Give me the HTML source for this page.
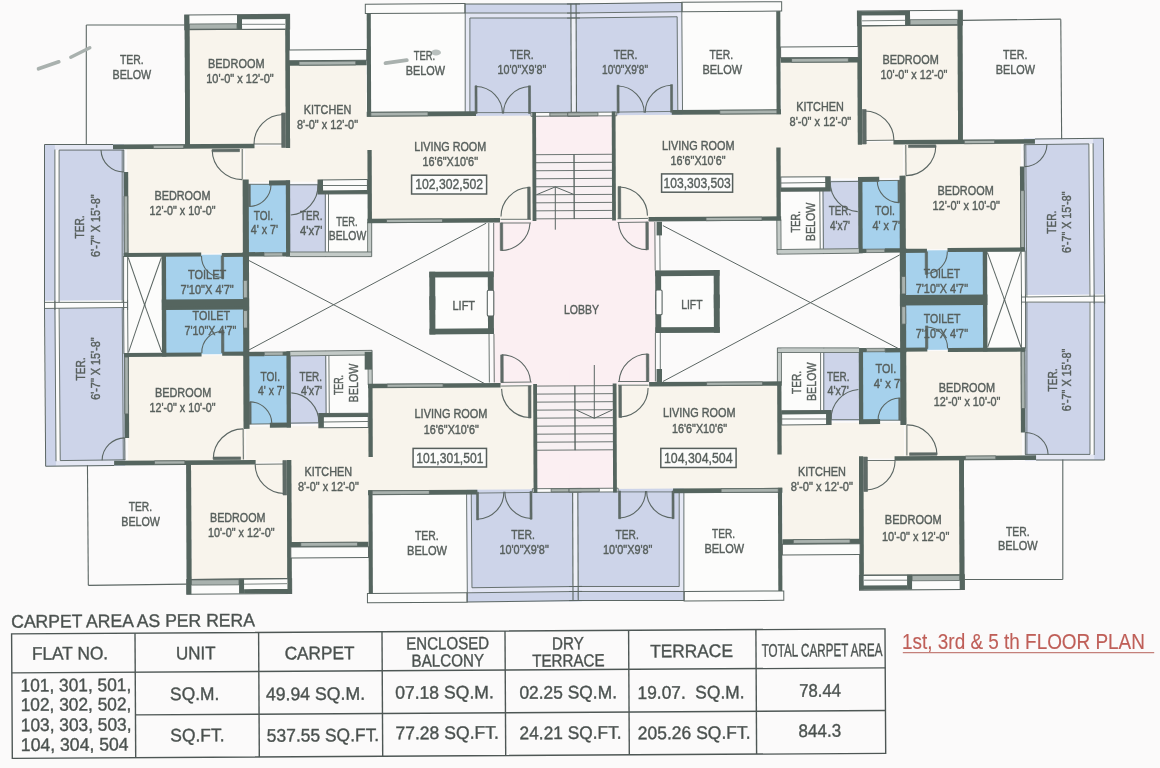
<!DOCTYPE html>
<html><head><meta charset="utf-8"><style>
html,body{margin:0;padding:0;background:#fbfafa;}
svg{display:block;font-family:"Liberation Sans",sans-serif;will-change:transform;}
text{stroke:#575f5c;stroke-width:0.42px;}
</style></head><body>
<svg width="1160" height="768" viewBox="0 0 1160 768">
<defs><filter id="blur1" x="-20%" y="-50%" width="140%" height="200%"><feGaussianBlur stdDeviation="0.6"/></filter></defs>
<rect width="1160" height="768" fill="#fbfafa"/>
<g transform="matrix(1,-0.006,0.0036,1,574.55,302.25)">
<g id="qf">
<rect x="-529.47" y="-160.93" width="79.5" height="165.5" fill="#cdd4e9"/>
<rect x="-519.09" y="-155.86" width="4.2" height="160.5" fill="#fcfcfb"/>
<rect x="-519.07" y="-160.36" width="69.1" height="5" fill="#e4e7f3"/>
<rect x="-530.04" y="-2.83" width="83.1" height="7.4" fill="#fcfcfb"/>
<rect x="-384.16" y="-275.05" width="96.4" height="115.5" fill="#f8f4ec"/>
<rect x="-328.98" y="-158.22" width="126" height="36" fill="#f8f4ec"/>
<rect x="-284.69" y="-239.96" width="82" height="84" fill="#f8f4ec"/>
<rect x="-204.87" y="-188.48" width="164" height="106" fill="#f8f4ec"/>
<rect x="-446.99" y="-156.93" width="117" height="106" fill="#f8f4ec"/>
<rect x="-327.12" y="-119.91" width="41" height="71.2" fill="#a6d1ec"/>
<rect x="-286.12" y="-119.97" width="38" height="71.5" fill="#cdd4e9"/>
<rect x="-248.15" y="-111.74" width="42" height="61" fill="#fcfcfb"/>
<rect x="-410.37" y="-49.71" width="81" height="55" fill="#a6d1ec"/>
<rect x="-450.77" y="-49.95" width="38.4" height="55" fill="#fcfcfb"/>
<rect x="-207.47" y="-299.29" width="100" height="111.8" fill="#fcfcfb"/>
<rect x="-108.47" y="-299" width="115" height="112.1" fill="#cdd4e9"/>
<rect x="-107.51" y="-289.9" width="114" height="5" fill="#e2e5f3"/>
<rect x="-108.21" y="-289.9" width="4.6" height="100" fill="#e6e9f5"/>
<rect x="-2.6" y="-284.3" width="5.2" height="97.8" fill="#eef0f7"/>
<rect x="-40.87" y="-189.5" width="47" height="109" fill="#fbeff2"/>
<rect x="-81.26" y="-81.74" width="87" height="89" fill="#fbeff2"/>
<rect x="-38.02" y="-147.88" width="44" height="64.2" fill="#f8f1f3"/>
<rect x="-144.43" y="-32.12" width="62" height="39" fill="#fcfcfb"/>
</g>
<use href="#qf" transform="scale(-1,1)"/>
<use href="#qf" transform="scale(1,-1)"/>
<use href="#qf" transform="scale(-1,-1)"/>
<g id="ql">
<line x1="-529.47" y1="-160.93" x2="-530.07" y2="4.57" stroke="#5b6663" stroke-width="1.0"/>
<line x1="-529.47" y1="-160.93" x2="-460.97" y2="-160.52" stroke="#5b6663" stroke-width="1.0"/>
<line x1="-519.09" y1="-155.86" x2="-519.67" y2="4.63" stroke="#5b6663" stroke-width="0.9"/>
<line x1="-514.89" y1="-155.24" x2="-515.44" y2="-2.94" stroke="#5b6663" stroke-width="0.9"/>
<line x1="-514.89" y1="-155.24" x2="-449.99" y2="-154.85" stroke="#5b6663" stroke-width="0.9"/>
<line x1="-451.79" y1="-154.96" x2="-452.34" y2="-2.56" stroke="#5b6663" stroke-width="0.8"/>
<line x1="-530.04" y1="-3.03" x2="-446.94" y2="-2.53" stroke="#5b6663" stroke-width="0.9"/>
<line x1="-450.77" y1="-48.95" x2="-450.97" y2="5.04" stroke="#5b6663" stroke-width="0.9"/>
<line x1="-446.77" y1="-48.93" x2="-446.97" y2="5.07" stroke="#5b6663" stroke-width="0.9"/>
<line x1="-487.24" y1="-280.17" x2="-487.67" y2="-160.18" stroke="#5b6663" stroke-width="1.1"/>
<line x1="-487.24" y1="-280.17" x2="-388.54" y2="-279.58" stroke="#5b6663" stroke-width="1.1"/>
<rect x="-388.81" y="-289.58" width="4.7" height="133" fill="#55655f"/>
<rect x="-288.11" y="-288.98" width="4.2" height="133" fill="#55655f"/>
<rect x="-388.81" y="-289.58" width="104.9" height="14.7" fill="#fcfcfb" stroke="#5b6663" stroke-width="1.0"/>
<rect x="-384.14" y="-280.55" width="47.6" height="5.2" fill="#a9b2ae" stroke="#5b6663" stroke-width="0.8"/>
<rect x="-336.51" y="-289.27" width="5" height="14.7" fill="#55655f"/>
<rect x="-331.51" y="-289.24" width="47.6" height="4.3" fill="#55655f"/>
<line x1="-331.54" y1="-279.94" x2="-288.54" y2="-279.68" stroke="#5b6663" stroke-width="0.8"/>
<line x1="-384.16" y1="-275.05" x2="-288.56" y2="-274.48" stroke="#5b6663" stroke-width="1.0"/>
<rect x="-388.81" y="-289.58" width="4.7" height="133" fill="#55655f"/>
<rect x="-288.11" y="-288.98" width="4.2" height="133" fill="#55655f"/>
<rect x="-460.97" y="-160.42" width="141.5" height="4.6" fill="#55655f"/>
<rect x="-420.68" y="-159.47" width="30.4" height="3.3" fill="#a9b2ae" stroke="#5b6663" stroke-width="0.8"/>
<rect x="-292.26" y="-191" width="3.8" height="34.5" fill="#5f6b67" stroke="#5b6663" stroke-width="0.6"/>
<line x1="-319.97" y1="-160.17" x2="-290.97" y2="-160" stroke="#5b6663" stroke-width="0.9"/>
<path d="M-319.97 -160.17A29.5 29.5 0 0 1 -290.87 -189.5" fill="none" stroke="#5b6663" stroke-width="1.1"/>
<line x1="-450.19" y1="-154.95" x2="-450.27" y2="-132.95" stroke="#5b6663" stroke-width="1.0"/>
<rect x="-450.47" y="-132.95" width="4.6" height="85" fill="#55655f"/>
<rect x="-450.06" y="-108.95" width="3.6" height="56.9" fill="#a9b2ae" stroke="#5b6663" stroke-width="0.8"/>
<path d="M-472.99 -155.09A22.8 22.8 0 0 0 -450.27 -132.95" fill="none" stroke="#5b6663" stroke-width="1.1"/>
<rect x="-361.79" y="-155.22" width="27.3" height="2.6" fill="#5f6b67" stroke="#5b6663" stroke-width="0.6"/>
<line x1="-331.79" y1="-155.24" x2="-331.9" y2="-124.64" stroke="#5b6663" stroke-width="1.0"/>
<path d="M-361.79 -154.42A30 30 0 0 0 -331.9 -124.64" fill="none" stroke="#5b6663" stroke-width="1.1"/>
<rect x="-331.5" y="-124.64" width="6.1" height="130.4" fill="#55655f"/>
<rect x="-450.76" y="-52.05" width="77.6" height="4.1" fill="#55655f"/>
<rect x="-352.56" y="-51.47" width="26.2" height="4.1" fill="#55655f"/>
<rect x="-353.18" y="-48.37" width="2.4" height="22.6" fill="#5f6b67" stroke="#5b6663" stroke-width="0.6"/>
<path d="M-372.88 -48.49A21 21 0 0 0 -352.05 -26.86" fill="none" stroke="#5b6663" stroke-width="1.1"/>
<rect x="-412.76" y="-51.73" width="4.4" height="57" fill="#55655f"/>
<rect x="-412.54" y="-2.13" width="86" height="7.4" fill="#55655f"/>
<rect x="-331.16" y="-23.84" width="4" height="17.5" fill="#a9b2ae" stroke="#5b6663" stroke-width="0.8"/>
<line x1="-446.18" y1="-47.43" x2="-429.55" y2="1.17" stroke="#5b6663" stroke-width="1.0"/>
<line x1="-412.98" y1="-47.23" x2="-430.35" y2="1.17" stroke="#5b6663" stroke-width="1.0"/>
<line x1="-326.12" y1="-119.91" x2="-304.12" y2="-119.77" stroke="#5b6663" stroke-width="0.9"/>
<rect x="-305.11" y="-123.58" width="21" height="5" fill="#55655f"/>
<rect x="-288.31" y="-123.48" width="4.3" height="76.1" fill="#55655f"/>
<rect x="-325.82" y="-119.7" width="2" height="22" fill="#5f6b67" stroke="#5b6663" stroke-width="0.6"/>
<path d="M-324.7 -97.7A22 22 0 0 0 -303.12 -119.57" fill="none" stroke="#5b6663" stroke-width="1.1"/>
<rect x="-331.86" y="-52.04" width="21.5" height="4.4" fill="#55655f"/>
<rect x="-310.37" y="-51.31" width="18.7" height="3.4" fill="#a9b2ae" stroke="#5b6663" stroke-width="0.8"/>
<rect x="-291.66" y="-51.8" width="7.4" height="4.4" fill="#55655f"/>
<line x1="-284.12" y1="-119.15" x2="-256.12" y2="-118.99" stroke="#5b6663" stroke-width="0.9"/>
<path d="M-283.53 -88.95A29.5 29.5 0 0 0 -256.12 -118.99" fill="none" stroke="#5b6663" stroke-width="1.1"/>
<rect x="-256.1" y="-123.89" width="49.4" height="14.2" fill="#fcfcfb" stroke="#5b6663" stroke-width="1.0"/>
<line x1="-252.12" y1="-118.26" x2="-206.73" y2="-117.99" stroke="#5b6663" stroke-width="0.9"/>
<rect x="-256.14" y="-113.39" width="49.4" height="3.7" fill="#55655f"/>
<rect x="-256.1" y="-123.89" width="5" height="14.2" fill="#55655f"/>
<line x1="-248.85" y1="-109.74" x2="-249.08" y2="-47.14" stroke="#5b6663" stroke-width="0.9"/>
<line x1="-245.65" y1="-109.72" x2="-245.86" y2="-51.73" stroke="#5b6663" stroke-width="0.9"/>
<rect x="-284.36" y="-51.96" width="81.7" height="4.6" fill="#c3cac7"/>
<rect x="-206.66" y="-81.49" width="4.1" height="34.6" fill="#c3cac7"/>
<line x1="-284.36" y1="-51.96" x2="-202.66" y2="-51.47" stroke="#5b6663" stroke-width="0.8"/>
<line x1="-284.38" y1="-47.36" x2="-202.68" y2="-46.87" stroke="#5b6663" stroke-width="0.9"/>
<line x1="-206.66" y1="-81.49" x2="-206.76" y2="-51.49" stroke="#5b6663" stroke-width="0.8"/>
<line x1="-202.56" y1="-81.47" x2="-202.68" y2="-46.87" stroke="#5b6663" stroke-width="0.9"/>
<rect x="-206.6" y="-153.49" width="4.3" height="72.6" fill="#55655f"/>
<rect x="-206.85" y="-84.69" width="132.6" height="4.4" fill="#55655f"/>
<rect x="-187.75" y="-83.98" width="56" height="3.2" fill="#a9b2ae" stroke="#5b6663" stroke-width="0.8"/>
<rect x="-208.17" y="-299.3" width="99.7" height="9.4" fill="#fcfcfb" stroke="#5b6663" stroke-width="1.0"/>
<rect x="-206.81" y="-289.89" width="4.1" height="103.1" fill="#55655f"/>
<rect x="-207.16" y="-191.69" width="109.3" height="4.9" fill="#55655f"/>
<rect x="-203.06" y="-191.07" width="57.2" height="3.7" fill="#a9b2ae" stroke="#5b6663" stroke-width="0.8"/>
<line x1="-108.31" y1="-289.3" x2="-108.66" y2="-190.9" stroke="#5b6663" stroke-width="0.9"/>
<rect x="-284.64" y="-253.96" width="77.7" height="10.8" fill="#fcfcfb" stroke="#5b6663" stroke-width="1.0"/>
<rect x="-284.67" y="-243.16" width="77.7" height="5" fill="#55655f"/>
<rect x="-274.68" y="-242.5" width="56.8" height="3.8" fill="#a9b2ae" stroke="#5b6663" stroke-width="0.8"/>
<line x1="-108.47" y1="-299" x2="6.52" y2="-298.31" stroke="#5b6663" stroke-width="1.0"/>
<line x1="-108.47" y1="-299" x2="-108.51" y2="-289.3" stroke="#5b6663" stroke-width="1.0"/>
<line x1="-108.51" y1="-289.9" x2="6.49" y2="-289.21" stroke="#5b6663" stroke-width="0.9"/>
<line x1="-103.62" y1="-284.87" x2="6.47" y2="-284.21" stroke="#5b6663" stroke-width="0.9"/>
<line x1="-103.62" y1="-284.87" x2="-103.96" y2="-190.87" stroke="#5b6663" stroke-width="0.9"/>
<line x1="-2.6" y1="-298.4" x2="-2.6" y2="-186.5" stroke="#5b6663" stroke-width="1.1"/>
<rect x="-98.77" y="-217.04" width="2" height="27.7" fill="#5f6b67" stroke="#5b6663" stroke-width="0.6"/>
<rect x="-45.27" y="-216.72" width="2" height="27.7" fill="#5f6b67" stroke="#5b6663" stroke-width="0.6"/>
<path d="M-97.77 -216.34A27 27 0 0 1 -71.37 -189.18" fill="none" stroke="#5b6663" stroke-width="1.1"/>
<path d="M-44.27 -216.02A27 27 0 0 0 -70.37 -189.17" fill="none" stroke="#5b6663" stroke-width="1.1"/>
<line x1="-97.87" y1="-190.24" x2="-43.87" y2="-189.91" stroke="#5b6663" stroke-width="0.8"/>
<rect x="-42.87" y="-189.91" width="49" height="3.7" fill="#fcfcfb" stroke="#5b6663" stroke-width="0.9"/>
<rect x="-24.07" y="-189.49" width="30.2" height="3.1" fill="#a9b2ae" stroke="#5b6663" stroke-width="0.8"/>
<rect x="-41.66" y="-190.5" width="3.8" height="109" fill="#55655f"/>
<rect x="-46.53" y="-115.53" width="2.6" height="32" fill="#5f6b67" stroke="#5b6663" stroke-width="0.6"/>
<path d="M-45.64 -115.02A29 29 0 0 0 -73.24 -86.19" fill="none" stroke="#5b6663" stroke-width="1.1"/>
<line x1="-73.75" y1="-83.39" x2="-43.25" y2="-83.21" stroke="#5b6663" stroke-width="0.9"/>
<line x1="-73.76" y1="-79.69" x2="-43.26" y2="-79.51" stroke="#5b6663" stroke-width="0.9"/>
<rect x="-74.06" y="-79.69" width="2.5" height="27.5" fill="#5f6b67" stroke="#5b6663" stroke-width="0.6"/>
<path d="M-72.86 -52.19A29 29 0 0 0 -44.26 -79.32" fill="none" stroke="#5b6663" stroke-width="1.1"/>
<line x1="-38.02" y1="-147.76" x2="0.3" y2="-147.76" stroke="#5b6663" stroke-width="0.9"/>
<line x1="-38.05" y1="-139.74" x2="0.3" y2="-139.74" stroke="#5b6663" stroke-width="0.9"/>
<line x1="-38.08" y1="-131.72" x2="0.3" y2="-131.72" stroke="#5b6663" stroke-width="0.9"/>
<line x1="-38.1" y1="-123.7" x2="0.3" y2="-123.7" stroke="#5b6663" stroke-width="0.9"/>
<line x1="-38.13" y1="-115.68" x2="0.3" y2="-115.68" stroke="#5b6663" stroke-width="0.9"/>
<line x1="-38.16" y1="-107.66" x2="0.3" y2="-107.66" stroke="#5b6663" stroke-width="0.9"/>
<line x1="-38.19" y1="-99.65" x2="0.3" y2="-99.65" stroke="#5b6663" stroke-width="0.9"/>
<line x1="-38.22" y1="-91.63" x2="0.3" y2="-91.63" stroke="#5b6663" stroke-width="0.9"/>
<line x1="-38.25" y1="-83.61" x2="0.3" y2="-83.61" stroke="#5b6663" stroke-width="0.9"/>
<line x1="0" y1="-147.7" x2="0" y2="-83.5" stroke="#5b6663" stroke-width="0.9"/>
<line x1="-85.46" y1="-79.76" x2="-85.64" y2="-31.26" stroke="#5b6663" stroke-width="0.9"/>
<line x1="-80.56" y1="-79.73" x2="-80.74" y2="-31.23" stroke="#5b6663" stroke-width="0.9"/>
<rect x="-145.14" y="-31.32" width="5.9" height="38.2" fill="#55655f"/>
<rect x="-145.14" y="-31.32" width="64.4" height="5.8" fill="#55655f"/>
<rect x="-86.64" y="-30.97" width="5.9" height="38.2" fill="#55655f"/>
</g>
<use href="#ql" transform="scale(-1,1)"/>
<use href="#ql" transform="scale(1,-1)"/>
<use href="#ql" transform="scale(-1,-1)"/>
</g>
<line x1="247" y1="259.5" x2="485" y2="383.8" stroke="#5b6663" stroke-width="1.0"/>
<line x1="486.2" y1="223.2" x2="247" y2="351" stroke="#5b6663" stroke-width="1.0"/>
<line x1="662.9" y1="225.6" x2="898.5" y2="348.6" stroke="#5b6663" stroke-width="1.0"/>
<line x1="899.7" y1="254.9" x2="662.9" y2="381.5" stroke="#5b6663" stroke-width="1.0"/>
<line x1="555.3" y1="186.9" x2="555.3" y2="229.7" stroke="#5b6663" stroke-width="1.0"/>
<polyline points="536.8,194.6 555.3,186.9 574.2,194.6" fill="none" stroke="#5b6663" stroke-width="1.0"/>
<line x1="594.3" y1="365" x2="594.3" y2="418.3" stroke="#5b6663" stroke-width="1.0"/>
<polyline points="576.5,410.1 594.3,418.3 612,410.1" fill="none" stroke="#5b6663" stroke-width="1.0"/>
<rect x="487.3" y="290.3" width="6.5" height="25.8" rx="1.3" fill="#fcfcfb" stroke="#5b6663" stroke-width="1.1"/>
<rect x="655.9" y="290" width="6.2" height="24.8" rx="1.3" fill="#fcfcfb" stroke="#5b6663" stroke-width="1.1"/>
<rect x="656.6" y="221.8" width="5.4" height="13.6" fill="#55655f"/>
<rect x="656.6" y="369" width="5.4" height="14.4" fill="#55655f"/>
<line x1="38.5" y1="68.8" x2="58.8" y2="61.8" stroke="#a9b1ae" stroke-width="3.6" stroke-linecap="round" filter="url(#blur1)"/>
<line x1="70.8" y1="57.3" x2="89.8" y2="47.8" stroke="#a9b1ae" stroke-width="3.4" stroke-linecap="round" filter="url(#blur1)"/>
<line x1="385.5" y1="63.2" x2="406.8" y2="60.2" stroke="#a9b1ae" stroke-width="3.8" stroke-linecap="round" filter="url(#blur1)"/>
<ellipse cx="436" cy="52.5" rx="5" ry="3" fill="#a9b2af" opacity="0.8" filter="url(#blur1)"/>
<rect x="364.7" y="351.9" width="7.3" height="17.7" fill="#55655f"/>
<text x="131.88" y="63.75" font-size="12.3" text-anchor="middle" fill="#575f5c" textLength="23.75" lengthAdjust="spacingAndGlyphs">TER.</text>
<text x="131.88" y="78.75" font-size="12.3" text-anchor="middle" fill="#575f5c" textLength="38.75" lengthAdjust="spacingAndGlyphs">BELOW</text>
<text x="236.25" y="67.5" font-size="12.3" text-anchor="middle" fill="#575f5c" textLength="56.5" lengthAdjust="spacingAndGlyphs">BEDROOM</text>
<text x="240" y="82.5" font-size="12.3" text-anchor="middle" fill="#575f5c" textLength="67.5" lengthAdjust="spacingAndGlyphs">10'-0" x 12'-0"</text>
<text x="327.5" y="113.6" font-size="12.3" text-anchor="middle" fill="#575f5c" textLength="47.5" lengthAdjust="spacingAndGlyphs">KITCHEN</text>
<text x="327.5" y="128.75" font-size="12.3" text-anchor="middle" fill="#575f5c" textLength="61" lengthAdjust="spacingAndGlyphs">8'-0" x 12'-0"</text>
<text x="424.38" y="60" font-size="12.3" text-anchor="middle" fill="#575f5c" textLength="21.25" lengthAdjust="spacingAndGlyphs">TER.</text>
<text x="425.38" y="75" font-size="12.3" text-anchor="middle" fill="#575f5c" textLength="39.25" lengthAdjust="spacingAndGlyphs">BELOW</text>
<text x="521.88" y="59.25" font-size="12.3" text-anchor="middle" fill="#575f5c" textLength="23.75" lengthAdjust="spacingAndGlyphs">TER.</text>
<text x="521.88" y="74.25" font-size="12.3" text-anchor="middle" fill="#575f5c" textLength="48.75" lengthAdjust="spacingAndGlyphs">10'0"X9'8"</text>
<text x="450.25" y="151.25" font-size="12.3" text-anchor="middle" fill="#575f5c" textLength="72" lengthAdjust="spacingAndGlyphs">LIVING ROOM</text>
<text x="450.25" y="166.25" font-size="12.3" text-anchor="middle" fill="#575f5c" textLength="55.5" lengthAdjust="spacingAndGlyphs">16'6"X10'6"</text>
<text x="182.5" y="199.5" font-size="12.3" text-anchor="middle" fill="#575f5c" textLength="56" lengthAdjust="spacingAndGlyphs">BEDROOM</text>
<text x="182.5" y="214.5" font-size="12.3" text-anchor="middle" fill="#575f5c" textLength="66" lengthAdjust="spacingAndGlyphs">12'-0" x 10'-0"</text>
<text x="263.38" y="219.5" font-size="12.3" text-anchor="middle" fill="#575f5c" textLength="19.25" lengthAdjust="spacingAndGlyphs">TOI.</text>
<text x="264.38" y="233.75" font-size="12.3" text-anchor="middle" fill="#575f5c" textLength="27.25" lengthAdjust="spacingAndGlyphs">4' x 7'</text>
<text x="311.25" y="219.5" font-size="12.3" text-anchor="middle" fill="#575f5c" textLength="22.5" lengthAdjust="spacingAndGlyphs">TER.</text>
<text x="311.25" y="234.5" font-size="12.3" text-anchor="middle" fill="#575f5c" textLength="22.5" lengthAdjust="spacingAndGlyphs">4'x7'</text>
<text x="346.88" y="226.25" font-size="12.3" text-anchor="middle" fill="#575f5c" textLength="21.25" lengthAdjust="spacingAndGlyphs">TER.</text>
<text x="347.5" y="240" font-size="12.3" text-anchor="middle" fill="#575f5c" textLength="37.5" lengthAdjust="spacingAndGlyphs">BELOW</text>
<text x="207.12" y="278.75" font-size="12.3" text-anchor="middle" fill="#575f5c" textLength="38.25" lengthAdjust="spacingAndGlyphs">TOILET</text>
<text x="207.12" y="293.75" font-size="12.3" text-anchor="middle" fill="#575f5c" textLength="53.25" lengthAdjust="spacingAndGlyphs">7'10"X 4'7"</text>
<text x="84.3" y="227" font-size="12.3" text-anchor="middle" fill="#575f5c" textLength="23" lengthAdjust="spacingAndGlyphs" transform="rotate(-90 84.3 227)">TER.</text>
<text x="100.2" y="225.7" font-size="12.3" text-anchor="middle" fill="#575f5c" textLength="62.5" lengthAdjust="spacingAndGlyphs" transform="rotate(-90 100.2 225.7)">6'-7" X 15'-8"</text>
<text x="625.62" y="59.25" font-size="12.3" text-anchor="middle" fill="#575f5c" textLength="23.75" lengthAdjust="spacingAndGlyphs">TER.</text>
<text x="625" y="73.75" font-size="12.3" text-anchor="middle" fill="#575f5c" textLength="46" lengthAdjust="spacingAndGlyphs">10'0"X9'8"</text>
<text x="721.25" y="59.25" font-size="12.3" text-anchor="middle" fill="#575f5c" textLength="23.5" lengthAdjust="spacingAndGlyphs">TER.</text>
<text x="722.25" y="74.25" font-size="12.3" text-anchor="middle" fill="#575f5c" textLength="39.5" lengthAdjust="spacingAndGlyphs">BELOW</text>
<text x="820" y="111.25" font-size="12.3" text-anchor="middle" fill="#575f5c" textLength="47.5" lengthAdjust="spacingAndGlyphs">KITCHEN</text>
<text x="820.38" y="126.25" font-size="12.3" text-anchor="middle" fill="#575f5c" textLength="61.75" lengthAdjust="spacingAndGlyphs">8'-0" x 12'-0"</text>
<text x="698.25" y="149.5" font-size="12.3" text-anchor="middle" fill="#575f5c" textLength="72.5" lengthAdjust="spacingAndGlyphs">LIVING ROOM</text>
<text x="698" y="165" font-size="12.3" text-anchor="middle" fill="#575f5c" textLength="55" lengthAdjust="spacingAndGlyphs">16'6"X10'6"</text>
<text x="910.62" y="63.75" font-size="12.3" text-anchor="middle" fill="#575f5c" textLength="56.25" lengthAdjust="spacingAndGlyphs">BEDROOM</text>
<text x="914" y="78.75" font-size="12.3" text-anchor="middle" fill="#575f5c" textLength="67" lengthAdjust="spacingAndGlyphs">10'-0" x 12'-0"</text>
<text x="1015.25" y="58.75" font-size="12.3" text-anchor="middle" fill="#575f5c" textLength="24.5" lengthAdjust="spacingAndGlyphs">TER.</text>
<text x="1015.38" y="73.75" font-size="12.3" text-anchor="middle" fill="#575f5c" textLength="39.25" lengthAdjust="spacingAndGlyphs">BELOW</text>
<text x="965.62" y="194.5" font-size="12.3" text-anchor="middle" fill="#575f5c" textLength="56.25" lengthAdjust="spacingAndGlyphs">BEDROOM</text>
<text x="966.25" y="210" font-size="12.3" text-anchor="middle" fill="#575f5c" textLength="67.5" lengthAdjust="spacingAndGlyphs">12'-0" x 10'-0"</text>
<text x="840" y="215" font-size="12.3" text-anchor="middle" fill="#575f5c" textLength="22.5" lengthAdjust="spacingAndGlyphs">TER.</text>
<text x="840" y="230" font-size="12.3" text-anchor="middle" fill="#575f5c" textLength="20" lengthAdjust="spacingAndGlyphs">4'x7'</text>
<text x="885" y="215" font-size="12.3" text-anchor="middle" fill="#575f5c" textLength="20" lengthAdjust="spacingAndGlyphs">TOI.</text>
<text x="886.25" y="230" font-size="12.3" text-anchor="middle" fill="#575f5c" textLength="27.5" lengthAdjust="spacingAndGlyphs">4' x 7'</text>
<text x="800" y="221.75" font-size="12.3" text-anchor="middle" fill="#575f5c" textLength="21.5" lengthAdjust="spacingAndGlyphs" transform="rotate(-90 800 221.75)">TER.</text>
<text x="815" y="221.9" font-size="12.3" text-anchor="middle" fill="#575f5c" textLength="38.75" lengthAdjust="spacingAndGlyphs" transform="rotate(-90 815 221.9)">BELOW</text>
<text x="941.88" y="278.25" font-size="12.3" text-anchor="middle" fill="#575f5c" textLength="36.25" lengthAdjust="spacingAndGlyphs">TOILET</text>
<text x="941.88" y="293" font-size="12.3" text-anchor="middle" fill="#575f5c" textLength="52.25" lengthAdjust="spacingAndGlyphs">7'10"X 4'7"</text>
<text x="1056" y="222.2" font-size="12.3" text-anchor="middle" fill="#575f5c" textLength="23" lengthAdjust="spacingAndGlyphs" transform="rotate(-90 1056 222.2)">TER.</text>
<text x="1070.6" y="222.2" font-size="12.3" text-anchor="middle" fill="#575f5c" textLength="61.5" lengthAdjust="spacingAndGlyphs" transform="rotate(-90 1070.6 222.2)">6'-7" X 15'-8"</text>
<text x="211.25" y="320" font-size="12.3" text-anchor="middle" fill="#575f5c" textLength="37.5" lengthAdjust="spacingAndGlyphs">TOILET</text>
<text x="210.38" y="335" font-size="12.3" text-anchor="middle" fill="#575f5c" textLength="51.75" lengthAdjust="spacingAndGlyphs">7'10"X 4'7"</text>
<text x="84.5" y="369" font-size="12.3" text-anchor="middle" fill="#575f5c" textLength="23" lengthAdjust="spacingAndGlyphs" transform="rotate(-90 84.5 369)">TER.</text>
<text x="100.3" y="368.6" font-size="12.3" text-anchor="middle" fill="#575f5c" textLength="62.5" lengthAdjust="spacingAndGlyphs" transform="rotate(-90 100.3 368.6)">6'-7" X 15'-8"</text>
<text x="183.12" y="397" font-size="12.3" text-anchor="middle" fill="#575f5c" textLength="56.25" lengthAdjust="spacingAndGlyphs">BEDROOM</text>
<text x="182.5" y="412" font-size="12.3" text-anchor="middle" fill="#575f5c" textLength="66" lengthAdjust="spacingAndGlyphs">12'-0" x 10'-0"</text>
<text x="270.25" y="381.25" font-size="12.3" text-anchor="middle" fill="#575f5c" textLength="19.5" lengthAdjust="spacingAndGlyphs">TOI.</text>
<text x="271.25" y="395" font-size="12.3" text-anchor="middle" fill="#575f5c" textLength="26.5" lengthAdjust="spacingAndGlyphs">4' x 7'</text>
<text x="310.75" y="381.25" font-size="12.3" text-anchor="middle" fill="#575f5c" textLength="22.5" lengthAdjust="spacingAndGlyphs">TER.</text>
<text x="311.5" y="395" font-size="12.3" text-anchor="middle" fill="#575f5c" textLength="21" lengthAdjust="spacingAndGlyphs">4'x7'</text>
<text x="342.5" y="385" font-size="12.3" text-anchor="middle" fill="#575f5c" textLength="20" lengthAdjust="spacingAndGlyphs" transform="rotate(-90 342.5 385)">TER.</text>
<text x="357.5" y="383" font-size="12.3" text-anchor="middle" fill="#575f5c" textLength="38.75" lengthAdjust="spacingAndGlyphs" transform="rotate(-90 357.5 383)">BELOW</text>
<text x="451" y="418.25" font-size="12.3" text-anchor="middle" fill="#575f5c" textLength="73" lengthAdjust="spacingAndGlyphs">LIVING ROOM</text>
<text x="451.25" y="433.75" font-size="12.3" text-anchor="middle" fill="#575f5c" textLength="55" lengthAdjust="spacingAndGlyphs">16'6"X10'6"</text>
<text x="328.25" y="476.25" font-size="12.3" text-anchor="middle" fill="#575f5c" textLength="47.5" lengthAdjust="spacingAndGlyphs">KITCHEN</text>
<text x="328.38" y="491.25" font-size="12.3" text-anchor="middle" fill="#575f5c" textLength="60.75" lengthAdjust="spacingAndGlyphs">8'-0" x 12'-0"</text>
<text x="140.38" y="510.5" font-size="12.3" text-anchor="middle" fill="#575f5c" textLength="23.25" lengthAdjust="spacingAndGlyphs">TER.</text>
<text x="140.62" y="525.75" font-size="12.3" text-anchor="middle" fill="#575f5c" textLength="38.75" lengthAdjust="spacingAndGlyphs">BELOW</text>
<text x="237.75" y="521.75" font-size="12.3" text-anchor="middle" fill="#575f5c" textLength="55.5" lengthAdjust="spacingAndGlyphs">BEDROOM</text>
<text x="241.25" y="537" font-size="12.3" text-anchor="middle" fill="#575f5c" textLength="66.5" lengthAdjust="spacingAndGlyphs">10'-0" x 12'-0"</text>
<text x="426.88" y="539.5" font-size="12.3" text-anchor="middle" fill="#575f5c" textLength="23.75" lengthAdjust="spacingAndGlyphs">TER.</text>
<text x="427" y="554.5" font-size="12.3" text-anchor="middle" fill="#575f5c" textLength="40" lengthAdjust="spacingAndGlyphs">BELOW</text>
<text x="523.12" y="538.75" font-size="12.3" text-anchor="middle" fill="#575f5c" textLength="23.75" lengthAdjust="spacingAndGlyphs">TER.</text>
<text x="524.12" y="553.75" font-size="12.3" text-anchor="middle" fill="#575f5c" textLength="49.25" lengthAdjust="spacingAndGlyphs">10'0"X9'8"</text>
<text x="627.12" y="538.75" font-size="12.3" text-anchor="middle" fill="#575f5c" textLength="23.25" lengthAdjust="spacingAndGlyphs">TER.</text>
<text x="627.75" y="553.75" font-size="12.3" text-anchor="middle" fill="#575f5c" textLength="49.5" lengthAdjust="spacingAndGlyphs">10'0"X9'8"</text>
<text x="723.5" y="538.25" font-size="12.3" text-anchor="middle" fill="#575f5c" textLength="23" lengthAdjust="spacingAndGlyphs">TER.</text>
<text x="724.25" y="553" font-size="12.3" text-anchor="middle" fill="#575f5c" textLength="39.5" lengthAdjust="spacingAndGlyphs">BELOW</text>
<text x="699.25" y="417" font-size="12.3" text-anchor="middle" fill="#575f5c" textLength="72.5" lengthAdjust="spacingAndGlyphs">LIVING ROOM</text>
<text x="699.5" y="432.5" font-size="12.3" text-anchor="middle" fill="#575f5c" textLength="55" lengthAdjust="spacingAndGlyphs">16'6"X10'6"</text>
<text x="801" y="382.5" font-size="12.3" text-anchor="middle" fill="#575f5c" textLength="23" lengthAdjust="spacingAndGlyphs" transform="rotate(-90 801 382.5)">TER.</text>
<text x="816" y="381.75" font-size="12.3" text-anchor="middle" fill="#575f5c" textLength="38.5" lengthAdjust="spacingAndGlyphs" transform="rotate(-90 816 381.75)">BELOW</text>
<text x="838.25" y="380.75" font-size="12.3" text-anchor="middle" fill="#575f5c" textLength="22.5" lengthAdjust="spacingAndGlyphs">TER.</text>
<text x="838.12" y="395" font-size="12.3" text-anchor="middle" fill="#575f5c" textLength="21.25" lengthAdjust="spacingAndGlyphs">4'x7'</text>
<text x="885.88" y="373" font-size="12.3" text-anchor="middle" fill="#575f5c" textLength="20.75" lengthAdjust="spacingAndGlyphs">TOI.</text>
<text x="888.12" y="387.5" font-size="12.3" text-anchor="middle" fill="#575f5c" textLength="28.75" lengthAdjust="spacingAndGlyphs">4' x 7'</text>
<text x="822" y="476.25" font-size="12.3" text-anchor="middle" fill="#575f5c" textLength="48" lengthAdjust="spacingAndGlyphs">KITCHEN</text>
<text x="821.85" y="491.4" font-size="12.3" text-anchor="middle" fill="#575f5c" textLength="62.3" lengthAdjust="spacingAndGlyphs">8'-0" x 12'-0"</text>
<text x="942.12" y="322.5" font-size="12.3" text-anchor="middle" fill="#575f5c" textLength="36.75" lengthAdjust="spacingAndGlyphs">TOILET</text>
<text x="941.88" y="337.5" font-size="12.3" text-anchor="middle" fill="#575f5c" textLength="52.25" lengthAdjust="spacingAndGlyphs">7'10"X 4'7"</text>
<text x="966.88" y="391.75" font-size="12.3" text-anchor="middle" fill="#575f5c" textLength="56.25" lengthAdjust="spacingAndGlyphs">BEDROOM</text>
<text x="967.12" y="406.25" font-size="12.3" text-anchor="middle" fill="#575f5c" textLength="66.75" lengthAdjust="spacingAndGlyphs">12'-0" x 10'-0"</text>
<text x="1056.9" y="379.9" font-size="12.3" text-anchor="middle" fill="#575f5c" textLength="23" lengthAdjust="spacingAndGlyphs" transform="rotate(-90 1056.9 379.9)">TER.</text>
<text x="1071.1" y="379.9" font-size="12.3" text-anchor="middle" fill="#575f5c" textLength="62.5" lengthAdjust="spacingAndGlyphs" transform="rotate(-90 1071.1 379.9)">6'-7" X 15'-8"</text>
<text x="913.25" y="524.4" font-size="12.3" text-anchor="middle" fill="#575f5c" textLength="56.9" lengthAdjust="spacingAndGlyphs">BEDROOM</text>
<text x="915.65" y="540.6" font-size="12.3" text-anchor="middle" fill="#575f5c" textLength="67.3" lengthAdjust="spacingAndGlyphs">10'-0" x 12'-0"</text>
<text x="1017.8" y="536" font-size="12.3" text-anchor="middle" fill="#575f5c" textLength="23.6" lengthAdjust="spacingAndGlyphs">TER.</text>
<text x="1017.8" y="550.4" font-size="12.3" text-anchor="middle" fill="#575f5c" textLength="39.6" lengthAdjust="spacingAndGlyphs">BELOW</text>
<text x="463.75" y="310" font-size="12.3" text-anchor="middle" fill="#575f5c" textLength="22.5" lengthAdjust="spacingAndGlyphs">LIFT</text>
<text x="691.88" y="308.75" font-size="12.3" text-anchor="middle" fill="#575f5c" textLength="21.25" lengthAdjust="spacingAndGlyphs">LIFT</text>
<text x="581.5" y="314.4" font-size="12.3" text-anchor="middle" fill="#575f5c" textLength="35" lengthAdjust="spacingAndGlyphs">LOBBY</text>
<rect x="411.6" y="175.2" width="75" height="18.8" fill="#fcfcfb" stroke="#575f5c" stroke-width="1.5"/>
<text x="449.15" y="188.9" font-size="15.4" text-anchor="middle" fill="#575f5c" textLength="67.9" lengthAdjust="spacingAndGlyphs">102,302,502</text>
<rect x="661.6" y="173.9" width="71" height="18.3" fill="#fcfcfb" stroke="#575f5c" stroke-width="1.5"/>
<text x="697.05" y="187.5" font-size="15.4" text-anchor="middle" fill="#575f5c" textLength="67.1" lengthAdjust="spacingAndGlyphs">103,303,503</text>
<rect x="413.1" y="448.4" width="73.4" height="18.6" fill="#fcfcfb" stroke="#575f5c" stroke-width="1.5"/>
<text x="449.8" y="462.5" font-size="15.4" text-anchor="middle" fill="#575f5c" textLength="67.2" lengthAdjust="spacingAndGlyphs">101,301,501</text>
<rect x="660.8" y="448.4" width="75.3" height="19.1" fill="#fcfcfb" stroke="#575f5c" stroke-width="1.5"/>
<text x="698.25" y="462.7" font-size="15.4" text-anchor="middle" fill="#575f5c" textLength="68.7" lengthAdjust="spacingAndGlyphs">104,304,504</text>
<g transform="rotate(-0.33 11.6 633.9)"><rect x="11.6" y="633.9" width="873.4" height="124.5" fill="none" stroke="#4e5755" stroke-width="1.4"/>
<line x1="135" y1="633.9" x2="135" y2="758.4" stroke="#4e5755" stroke-width="1.4"/>
<line x1="258.6" y1="633.9" x2="258.6" y2="758.4" stroke="#4e5755" stroke-width="1.4"/>
<line x1="382" y1="633.9" x2="382" y2="758.4" stroke="#4e5755" stroke-width="1.4"/>
<line x1="505" y1="633.9" x2="505" y2="758.4" stroke="#4e5755" stroke-width="1.4"/>
<line x1="628.6" y1="633.9" x2="628.6" y2="758.4" stroke="#4e5755" stroke-width="1.4"/>
<line x1="755.9" y1="633.9" x2="755.9" y2="758.4" stroke="#4e5755" stroke-width="1.4"/>
<line x1="11.6" y1="672.9" x2="885" y2="672.9" stroke="#4e5755" stroke-width="1.4"/>
<line x1="135" y1="715.6" x2="885" y2="715.6" stroke="#4e5755" stroke-width="1.4"/>
<text x="69.9" y="659.84" font-size="18.2" text-anchor="middle" fill="#484e4c" textLength="76.2" lengthAdjust="spacingAndGlyphs">FLAT NO.</text>
<text x="195.7" y="660.36" font-size="18.2" text-anchor="middle" fill="#484e4c" textLength="39.6" lengthAdjust="spacingAndGlyphs">UNIT</text>
<text x="319.5" y="661.07" font-size="18.2" text-anchor="middle" fill="#484e4c" textLength="70" lengthAdjust="spacingAndGlyphs">CARPET</text>
<text x="447.6" y="651.81" font-size="17.6" text-anchor="middle" fill="#484e4c" textLength="82.8" lengthAdjust="spacingAndGlyphs">ENCLOSED</text>
<text x="447.6" y="669.01" font-size="17.6" text-anchor="middle" fill="#484e4c" textLength="72.4" lengthAdjust="spacingAndGlyphs">BALCONY</text>
<text x="567.9" y="652.5" font-size="17.6" text-anchor="middle" fill="#484e4c" textLength="31.8" lengthAdjust="spacingAndGlyphs">DRY</text>
<text x="568.25" y="669.71" font-size="17.6" text-anchor="middle" fill="#484e4c" textLength="72.5" lengthAdjust="spacingAndGlyphs">TERRACE</text>
<text x="691.4" y="661.12" font-size="18.2" text-anchor="middle" fill="#484e4c" textLength="82.8" lengthAdjust="spacingAndGlyphs">TERRACE</text>
<text x="821.95" y="661.07" font-size="18.2" text-anchor="middle" fill="#484e4c" textLength="120.9" lengthAdjust="spacingAndGlyphs">TOTAL CARPET AREA</text>
<text x="75.6" y="691.67" font-size="18.2" text-anchor="middle" fill="#484e4c" textLength="110.8" lengthAdjust="spacingAndGlyphs">101, 301, 501,</text>
<text x="75.6" y="710.97" font-size="18.2" text-anchor="middle" fill="#484e4c" textLength="110.8" lengthAdjust="spacingAndGlyphs">102, 302, 502,</text>
<text x="75.6" y="731.27" font-size="18.2" text-anchor="middle" fill="#484e4c" textLength="110.8" lengthAdjust="spacingAndGlyphs">103, 303, 503,</text>
<text x="74.1" y="751.06" font-size="18.2" text-anchor="middle" fill="#484e4c" textLength="107.8" lengthAdjust="spacingAndGlyphs">104, 304, 504</text>
<text x="194.35" y="701.05" font-size="18.2" text-anchor="middle" fill="#484e4c" textLength="49.3" lengthAdjust="spacingAndGlyphs">SQ.M.</text>
<text x="315.15" y="701.75" font-size="18.2" text-anchor="middle" fill="#484e4c" textLength="99.3" lengthAdjust="spacingAndGlyphs">49.94 SQ.M.</text>
<text x="444.1" y="701.09" font-size="18.2" text-anchor="middle" fill="#484e4c" textLength="98.6" lengthAdjust="spacingAndGlyphs">07.18 SQ.M.</text>
<text x="567.8" y="701.8" font-size="18.2" text-anchor="middle" fill="#484e4c" textLength="97.6" lengthAdjust="spacingAndGlyphs">02.25 SQ.M.</text>
<text x="690.65" y="702.51" font-size="18.2" text-anchor="middle" fill="#484e4c" textLength="106.9" lengthAdjust="spacingAndGlyphs">19.07.&#160; SQ.M.</text>
<text x="819.7" y="701.35" font-size="18.2" text-anchor="middle" fill="#484e4c" textLength="41.8" lengthAdjust="spacingAndGlyphs">78.44</text>
<text x="196.85" y="742.47" font-size="18.2" text-anchor="middle" fill="#484e4c" textLength="54.3" lengthAdjust="spacingAndGlyphs">SQ.FT.</text>
<text x="322.4" y="743.19" font-size="18.2" text-anchor="middle" fill="#484e4c" textLength="112.4" lengthAdjust="spacingAndGlyphs">537.55 SQ.FT.</text>
<text x="446.55" y="741.51" font-size="18.2" text-anchor="middle" fill="#484e4c" textLength="103.5" lengthAdjust="spacingAndGlyphs">77.28 SQ.FT.</text>
<text x="570" y="742.22" font-size="18.2" text-anchor="middle" fill="#484e4c" textLength="102" lengthAdjust="spacingAndGlyphs">24.21 SQ.FT.</text>
<text x="693.6" y="742.93" font-size="18.2" text-anchor="middle" fill="#484e4c" textLength="112.8" lengthAdjust="spacingAndGlyphs">205.26 SQ.FT.</text>
<text x="819.3" y="741.55" font-size="18.2" text-anchor="middle" fill="#484e4c" textLength="42.6" lengthAdjust="spacingAndGlyphs">844.3</text>
<text x="133.12" y="627.7" font-size="18.2" text-anchor="middle" fill="#484e4c" textLength="243.75" lengthAdjust="spacingAndGlyphs">CARPET AREA AS PER RERA</text></g>
<text x="902.1" y="649.1" font-size="22.7" fill="#bf5f58" style="stroke:#bf5f58;stroke-width:0.15px" textLength="242.8" lengthAdjust="spacingAndGlyphs">1st, 3rd &amp; 5 th FLOOR PLAN</text><line x1="902.8" y1="652.7" x2="1154.2" y2="652.7" stroke="#c4807a" stroke-width="1.2"/>
</svg>
</body></html>
